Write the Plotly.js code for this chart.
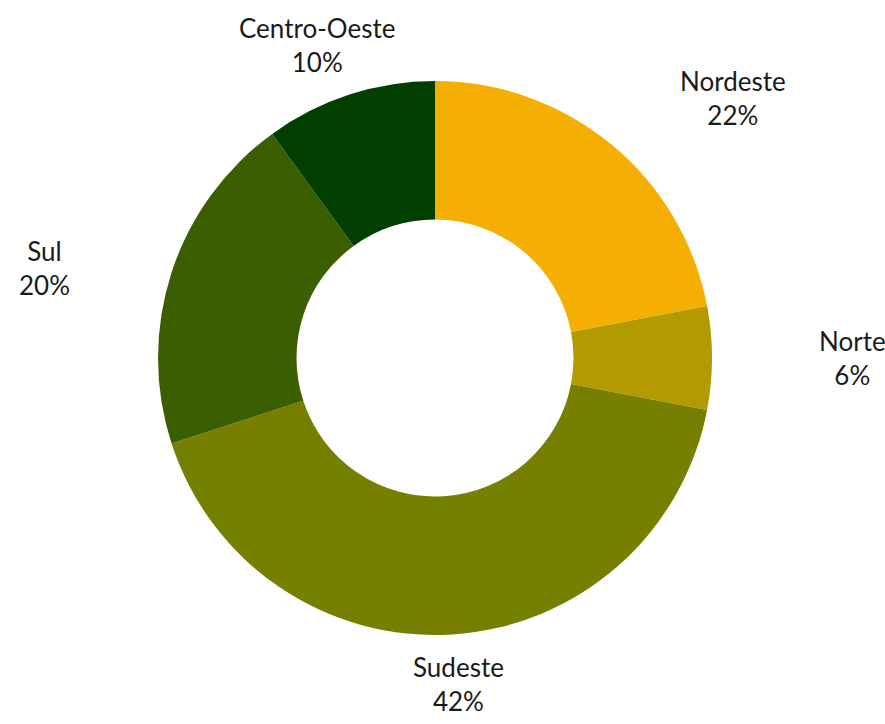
<!DOCTYPE html>
<html>
<head>
<meta charset="utf-8">
<script src="https://cdn.plot.ly/plotly-3.0.1.min.js"></script>
<style>html,body{margin:0;padding:0;background:#fff;}#chart{width:885px;height:724px;}</style>
</head>
<body>
<div id="chart"></div>
<script>
const regions = ["Nordeste", "Norte", "Sudeste", "Sul", "Centro-Oeste"];
const shares = [22, 6, 42, 20, 10];
const colors = ["#F5AF02", "#B39A00", "#777F00", "#3B5E00", "#003F00"];

const W = 885, H = 724;
const cx = 435, cy = 358, R = 277;
const Rx = 382, Ry = 292;

const total = shares.reduce((a, b) => a + b, 0);
const annotations = [];
let cum = 0;
shares.forEach((v, i) => {
  const mid = cum + v / 2;
  cum += v;
  const ang = Math.PI / 2 - 2 * Math.PI * mid / total;
  const c = Math.cos(ang), s = Math.sin(ang);
  const px = cx + Rx * c, py = cy - Ry * s;
  annotations.push({
    x: px / W, y: 1 - py / H, xref: "paper", yref: "paper",
    xanchor: c > 0.5 ? "left" : (c < -0.5 ? "right" : "center"),
    yanchor: s > 0.5 ? "bottom" : (s < -0.5 ? "top" : "middle"),
    showarrow: false,
    text: regions[i] + "<br>" + Math.round(100 * v / total) + "%",
    font: {family: "Lato, sans-serif", size: 26, color: "#1a1a1a"},
    align: "center"
  });
});

const trace = {
  type: "pie",
  labels: regions,
  values: shares,
  hole: 0.5,
  sort: false,
  direction: "clockwise",
  rotation: 0,
  textinfo: "none",
  hoverinfo: "label+percent",
  marker: {colors: colors, line: {width: 0}},
  domain: {x: [(cx - R) / W, (cx + R) / W], y: [1 - (cy + R) / H, 1 - (cy - R) / H]},
  showlegend: false
};

Plotly.newPlot("chart", [trace], {
  width: W, height: H,
  margin: {l: 0, r: 0, t: 0, b: 0},
  paper_bgcolor: "#fff",
  annotations: annotations
}, {displayModeBar: false, staticPlot: true});
</script>
</body>
</html>
